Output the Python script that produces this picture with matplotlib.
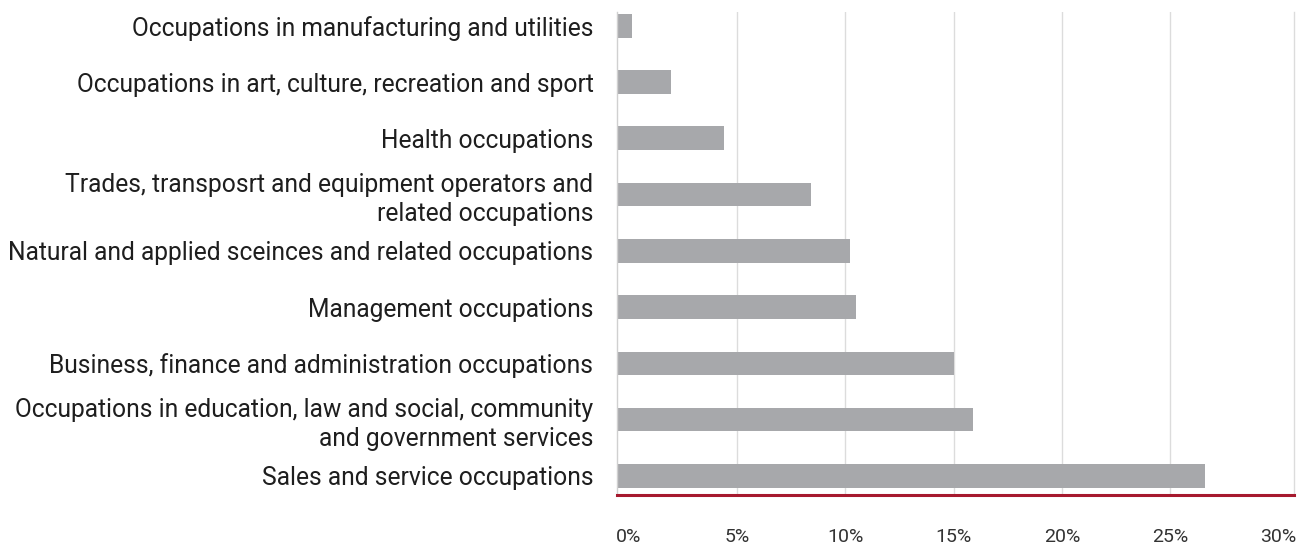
import matplotlib
matplotlib.use("Agg")
import matplotlib.pyplot as plt
from matplotlib.ticker import FuncFormatter

categories = [
    "Sales and service occupations",
    "Occupations in education, law and social, community\nand government services",
    "Business, finance and administration occupations",
    "Management occupations",
    "Natural and applied sceinces and related occupations",
    "Trades, transposrt and equipment operators and\nrelated occupations",
    "Health occupations",
    "Occupations in art, culture, recreation and sport",
    "Occupations in manufacturing and utilities",
]
values = [26.6, 15.9, 15.0, 10.5, 10.2, 8.4, 4.4, 1.95, 0.15]
xticks = [0, 5, 10, 15, 20, 25, 30]

XMIN, XMAX = -0.54, 30.71

plt.rcParams['font.family'] = ['Roboto', 'DejaVu Sans']

fig = plt.figure(figsize=(13.09, 5.46), dpi=100)
ax = fig.add_axes([617/1309, (546-494.5)/546, (1294-617)/1309, (494.5-11.7)/546])

ypos = list(range(len(categories)))
widths = [v - XMIN for v in values]
ax.barh(ypos, widths, left=XMIN, height=0.42, color="#a7a8ab", zorder=2)

ax.set_xlim(XMIN, XMAX)
ax.set_ylim(-0.33, len(categories) - 1 + 0.25)
ax.set_xticks(xticks)
ax.xaxis.set_major_formatter(FuncFormatter(lambda v, p: f"{v:.0f}%"))
ax.set_yticks(ypos)
ax.set_yticklabels(categories, fontsize=17.7, color="#1e1e1e", linespacing=1.27)
ax.tick_params(axis='y', length=0, pad=17)
ax.tick_params(axis='x', length=0, pad=24, labelsize=14, labelcolor="#333333")
ax.grid(axis='x', color="#dcdcdc", linewidth=1, zorder=0)
gl = ax.get_xgridlines()
gl[0].set_visible(False)
gl[-1].set_visible(False)

ax.spines['top'].set_visible(False)
ax.spines['left'].set_color("#d0d0d0")
ax.spines['right'].set_color("#dcdcdc")
ax.spines['left'].set_linewidth(1)
ax.spines['right'].set_linewidth(1)
ax.spines['bottom'].set_color("#a6192e")
ax.spines['bottom'].set_linewidth(2.2)
ax.spines['bottom'].set_zorder(3)

fig.savefig("out.png", dpi=100)
